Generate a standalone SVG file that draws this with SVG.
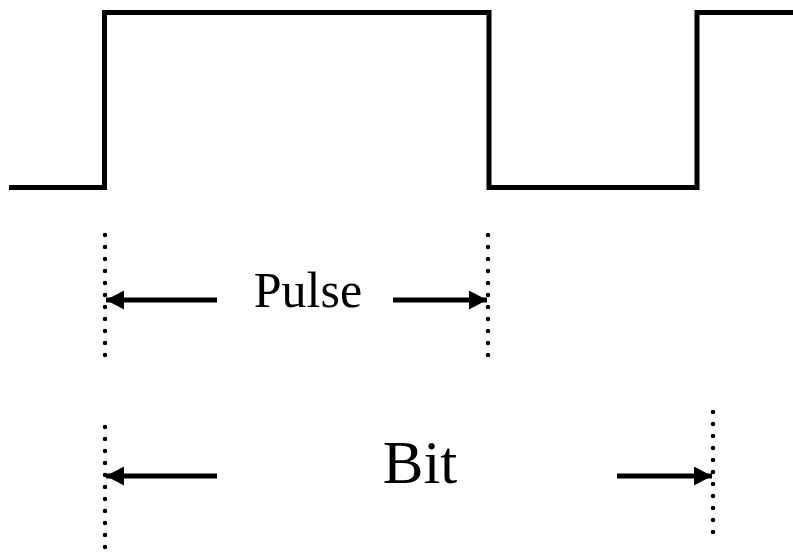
<svg xmlns="http://www.w3.org/2000/svg" width="793" height="552" viewBox="0 0 793 552">
<defs>
<style>
.sig{fill:none;stroke:#000;stroke-width:5;stroke-linejoin:miter;stroke-linecap:butt}
.dot{fill:none;stroke:#000;stroke-width:4.5;stroke-linecap:round;stroke-dasharray:0 12}
.arr{fill:none;stroke:#000;stroke-width:5}
.lbl{font-family:"Liberation Serif","Times New Roman",serif;fill:#000;text-anchor:middle}
</style>
<marker id="ah" viewBox="0 0 18 19" refX="18" refY="9.5" markerWidth="18" markerHeight="19" markerUnits="userSpaceOnUse" orient="auto">
<path d="M0,0 L18,9.5 L0,19 Z" fill="#000"/>
</marker>
</defs>
<rect width="793" height="552" fill="#fff"/>
<g id="signal">
<path class="sig" d="M9,187.5 H104.5 V12.5 H489 V187.5 H697 V12.5 H793"/>
</g>
<g id="markers">
<line class="dot" x1="105" y1="235" x2="105" y2="357"/>
<line class="dot" x1="488" y1="235" x2="488" y2="357"/>
<line class="dot" x1="105" y1="427" x2="105" y2="548"/>
<line class="dot" x1="713" y1="412" x2="713" y2="533"/>
</g>
<g id="connectors">
<line class="arr" x1="217" y1="300" x2="106" y2="300" marker-end="url(#ah)"/>
<line class="arr" x1="393" y1="300" x2="487" y2="300" marker-end="url(#ah)"/>
<line class="arr" x1="217" y1="476" x2="106" y2="476" marker-end="url(#ah)"/>
<line class="arr" x1="617" y1="476" x2="712" y2="476" marker-end="url(#ah)"/>
</g>
<g id="label-pulse"><text class="lbl" x="308" y="307" font-size="50">Pulse</text></g>
<g id="label-bit"><text class="lbl" x="420" y="483" font-size="61">Bit</text></g>
</svg>
